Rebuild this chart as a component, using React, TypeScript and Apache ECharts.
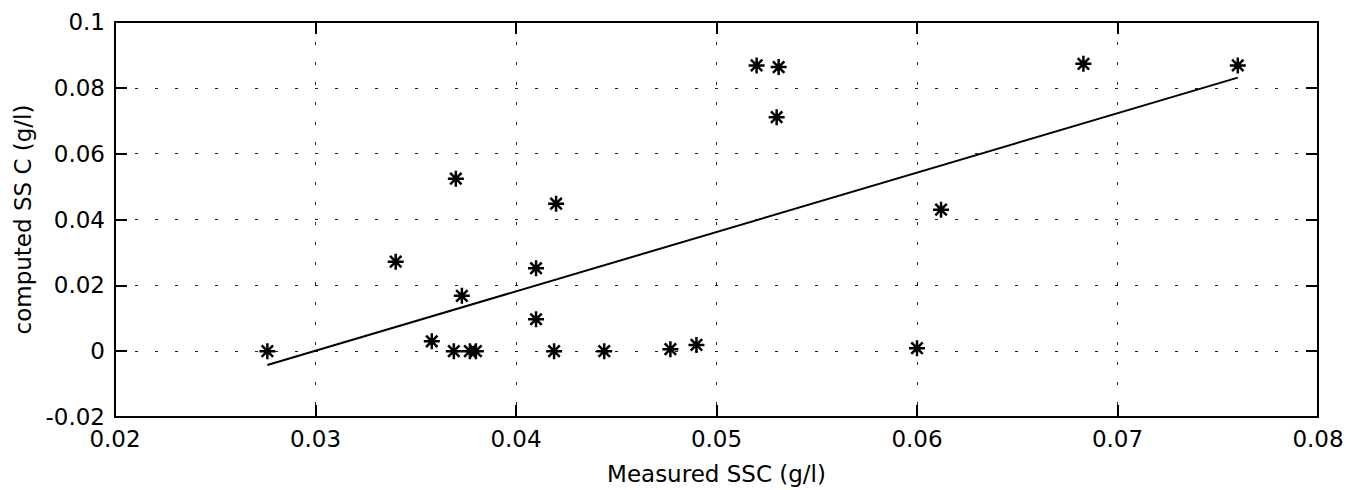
import React, { useEffect, useRef } from "react";
import * as echarts from "echarts";

// Measured SSC (g/l) vs computed SSC (g/l)
const measuredSSC = [
  0.0276, 0.034, 0.0358, 0.037, 0.0369, 0.0373, 0.0377, 0.038, 0.041, 0.041,
  0.042, 0.0419, 0.0444, 0.0477, 0.049, 0.052, 0.0531, 0.053, 0.06, 0.0612,
  0.0683, 0.076,
];
const computedSSC = [
  0.0, 0.0272, 0.003, 0.0524, 0.0, 0.0168, 0.0, 0.0, 0.0252, 0.0097,
  0.0448, 0.0, 0.0, 0.0006, 0.0019, 0.0868, 0.0863, 0.0711, 0.0009, 0.043,
  0.0873, 0.0868,
];
const fitX = [0.0276, 0.076];
const fitY = [-0.0042, 0.0831];

const xTicks = { min: 0.02, max: 0.08, interval: 0.01 };
const yTicks = { min: -0.02, max: 0.1, interval: 0.02 };

const FONT = "DejaVu Sans";
const asterisk = "path://M-7 0L7 0M0 -7L0 7M-5 -5L5 5M-5 5L5 -5";

const fmt = (v: number) => String(+v.toFixed(3));

export default function App() {
  const ref = useRef<HTMLDivElement>(null);
  useEffect(() => {
    document.body.style.margin = "0";
    const chart = echarts.init(ref.current!, null, { renderer: "svg" });
    const gridLine = { show: true, lineStyle: { color: "#222", width: 1, type: [3, 17] as any } };
    const axisLine = { show: true, onZero: false, lineStyle: { color: "#000", width: 2 } };
    const tick = { show: true, inside: true, length: 12, lineStyle: { color: "#000", width: 2 } };
    chart.setOption({
      animation: false,
      backgroundColor: "#fff",
      grid: { left: 115, right: 31, top: 22, bottom: 73, containLabel: false },
      xAxis: [
        {
          type: "value",
          ...xTicks,
          position: "bottom",
          name: "Measured SSC (g/l)",
          nameLocation: "middle",
          nameGap: 45,
          nameTextStyle: { fontFamily: FONT, fontSize: 23, color: "#000" },
          axisLine,
          axisTick: tick,
          axisLabel: { margin: 10, fontFamily: FONT, fontSize: 23, color: "#000", formatter: fmt },
          splitLine: gridLine,
        },
        {
          type: "value",
          ...xTicks,
          position: "top",
          axisLine,
          axisTick: tick,
          axisLabel: { show: false },
          splitLine: { show: false },
        },
      ],
      yAxis: [
        {
          type: "value",
          ...yTicks,
          position: "left",
          name: "computed SS C (g/l)",
          nameLocation: "middle",
          nameGap: 76,
          nameTextStyle: { fontFamily: FONT, fontSize: 23, color: "#000" },
          axisLine,
          axisTick: tick,
          axisLabel: { margin: 10, fontFamily: FONT, fontSize: 23, color: "#000", formatter: fmt },
          splitLine: gridLine,
        },
        {
          type: "value",
          ...yTicks,
          position: "right",
          axisLine,
          axisTick: tick,
          axisLabel: { show: false },
          splitLine: { show: false },
        },
      ],
      series: [
        {
          type: "line",
          data: fitX.map((x, i) => [x, fitY[i]]),
          showSymbol: false,
          symbol: "none",
          lineStyle: { color: "#000", width: 2 },
          silent: true,
        },
        {
          type: "scatter",
          data: measuredSSC.map((x, i) => [x, computedSSC[i]]),
          symbol: asterisk,
          symbolSize: 16,
          itemStyle: { color: "transparent", borderColor: "#000", borderWidth: 2.5, opacity: 1 },
        },
      ],
    });
    return () => chart.dispose();
  }, []);
  return <div ref={ref} style={{ width: 1349, height: 490 }} />;
}
